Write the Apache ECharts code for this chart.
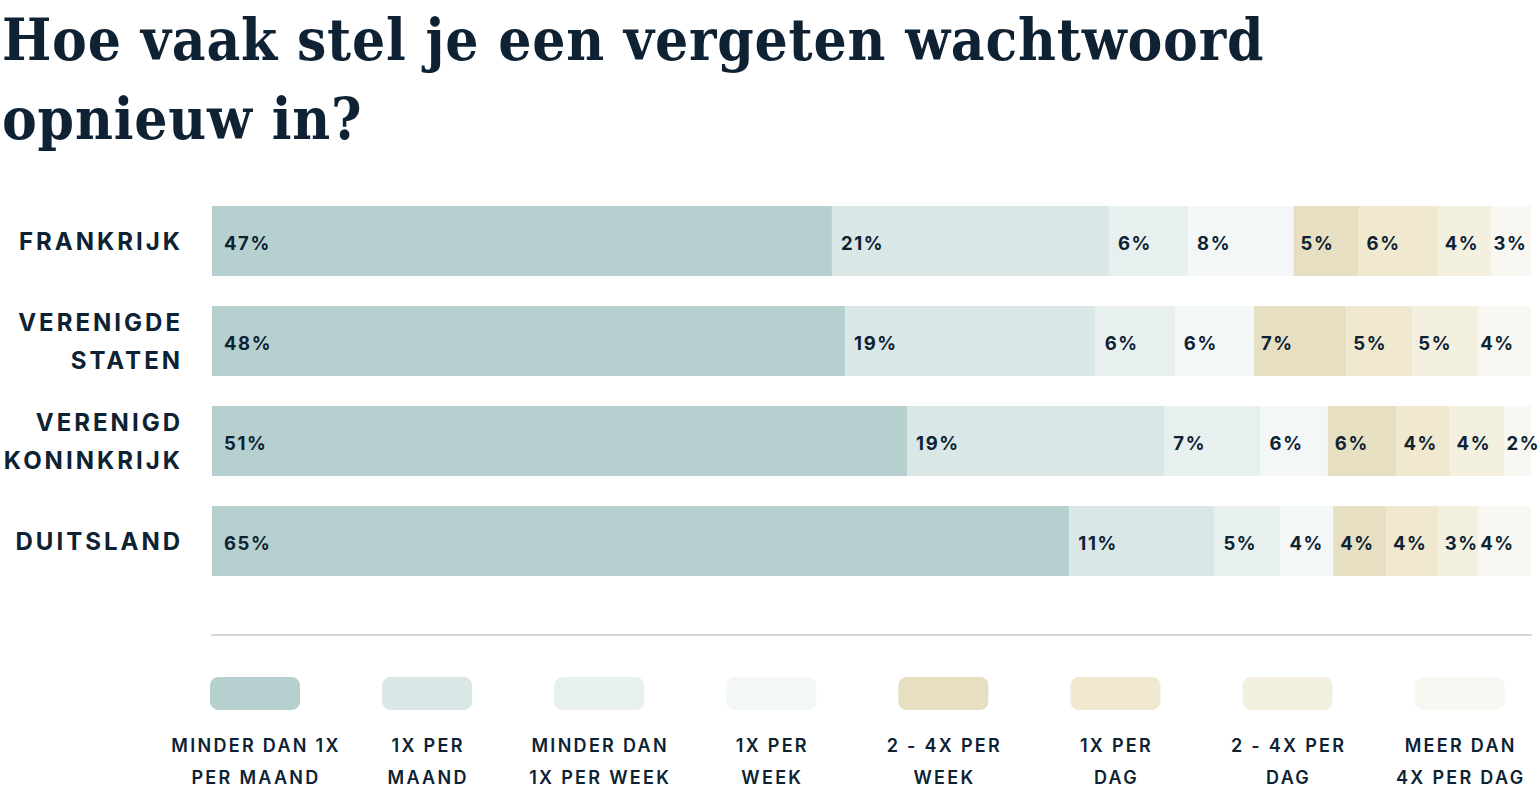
<!DOCTYPE html>
<html>
<head>
<meta charset="utf-8">
<script src="https://cdn.jsdelivr.net/npm/echarts@6/dist/echarts.min.js"></script>
<style>
  html, body { margin: 0; padding: 0; background: #ffffff; }
  #chart { width: 1540px; height: 798px; }
  #chart text[style*="Roboto"] { letter-spacing: 3px; }
  #chart text[style*="Lato"] { letter-spacing: 1.6px; }
  #chart text[style*="Open Sans"] { letter-spacing: 2.3px; }
  #chart text[style*="Condensed"] { letter-spacing: 0.8px; }
</style>
</head>
<body>
<div id="chart"></div>
<script>
// ---- data ----
const countries = ['FRANKRIJK', 'VERENIGDE\nSTATEN', 'VERENIGD\nKONINKRIJK', 'DUITSLAND'];
const frequencies = [
  'MINDER DAN 1X PER MAAND', '1X PER MAAND', 'MINDER DAN 1X PER WEEK', '1X PER WEEK',
  '2 - 4X PER WEEK', '1X PER DAG', '2 - 4X PER DAG', 'MEER DAN 4X PER DAG'
];
const legendLines = [
  'MINDER DAN 1X\nPER MAAND', '1X PER\nMAAND', 'MINDER DAN\n1X PER WEEK', '1X PER\nWEEK',
  '2 - 4X PER\nWEEK', '1X PER\nDAG', '2 - 4X PER\nDAG', 'MEER DAN\n4X PER DAG'
];
// bar lengths (share in %), in frequency order
const frankrijk = [47, 21, 6, 8, 5, 6, 4, 3];
const verenigdeStaten = [48, 19, 6, 6, 7, 5, 5, 4];
const verenigdKoninkrijk = [52.7, 19.5, 7.3, 5.1, 5.2, 4.1, 4.1, 2.0];
const duitsland = [65, 11, 5, 4, 4, 4, 3, 4];
// percentages printed on the bars
const printedFrankrijk = [47, 21, 6, 8, 5, 6, 4, 3];
const printedVerenigdeStaten = [48, 19, 6, 6, 7, 5, 5, 4];
const printedVerenigdKoninkrijk = [51, 19, 7, 6, 6, 4, 4, 2];
const printedDuitsland = [65, 11, 5, 4, 4, 4, 3, 4];

// ---- styling ----
const colors = ['#b6d0d0', '#d9e7e6', '#e8f0ef', '#f3f7f8', '#e7dfc1', '#f0e9cf', '#f4f0e0', '#f8f7f1'];
const ink = '#0d2233';
const labelDistances = [12, 9, 9, 9, 7, 7, 6, 2];

const rows = [frankrijk, verenigdeStaten, verenigdKoninkrijk, duitsland];
const printedRows = [printedFrankrijk, printedVerenigdeStaten, printedVerenigdKoninkrijk, printedDuitsland];

const chart = echarts.init(document.getElementById('chart'), null, { renderer: 'svg' });

const series = frequencies.map((name, i) => ({
  type: 'bar',
  name: name,
  stack: 'total',
  barWidth: 70,
  data: rows.map(r => r[i]),
  itemStyle: { color: colors[i] },
  emphasis: { disabled: true },
  label: {
    show: true,
    position: 'insideLeft',
    distance: labelDistances[i],
    offset: [0, 2],
    formatter: p => printedRows[p.dataIndex][i] + '%',
    color: ink,
    fontFamily: 'Inter, Lato',
    fontWeight: 'bold',
    fontSize: 18.5
  }
}));

const legendCenter0 = 255, legendStep = 172.1, legendTop = 677;
const legends = frequencies.map((name, i) => ({
  data: [name],
  left: legendCenter0 + legendStep * i - 45,
  top: legendTop,
  icon: 'roundRect',
  itemWidth: 90,
  itemHeight: 33,
  itemGap: 0,
  padding: 0,
  selectedMode: false,
  formatter: () => '',
  textStyle: { fontSize: 1 }
}));

const legendTexts = legendLines.map((t, i) => ({
  type: 'text',
  x: legendCenter0 + legendStep * i + 1,
  y: 761,
  style: {
    text: t,
    align: 'center',
    verticalAlign: 'middle',
    fill: ink,
    font: '600 18px Inter, "Open Sans"',
    lineHeight: 32
  }
}));

chart.setOption({
  animation: false,
  color: colors,
  title: {
    text: 'Hoe vaak stel je een vergeten wachtwoord\nopnieuw in?',
    left: 2,
    top: 0,
    padding: 0,
    textStyle: {
      fontFamily: '"DejaVu Serif Condensed", "DejaVu Serif", serif',
      fontWeight: 'bold',
      fontSize: 58,
      lineHeight: 79,
      color: '#0f2234'
    }
  },
  legend: legends,
  grid: { left: 212, right: 9, top: 191, bottom: 207, containLabel: false },
  xAxis: {
    type: 'value',
    min: 0,
    max: 100,
    position: 'bottom',
    offset: 44,
    axisLine: { show: true, lineStyle: { color: '#d3d7da', width: 2 } },
    axisTick: { show: false },
    axisLabel: { show: false },
    splitLine: { show: false }
  },
  yAxis: {
    type: 'category',
    inverse: true,
    data: countries,
    axisLine: { show: false },
    axisTick: { show: false },
    axisLabel: {
      margin: 29,
      color: ink,
      fontFamily: 'Inter, Roboto',
      fontWeight: 'bold',
      fontSize: 24,
      lineHeight: 38,
      padding: [5, 0, 0, 0],
      align: 'right'
    }
  },
  series: series,
  graphic: legendTexts
});
</script>
</body>
</html>
